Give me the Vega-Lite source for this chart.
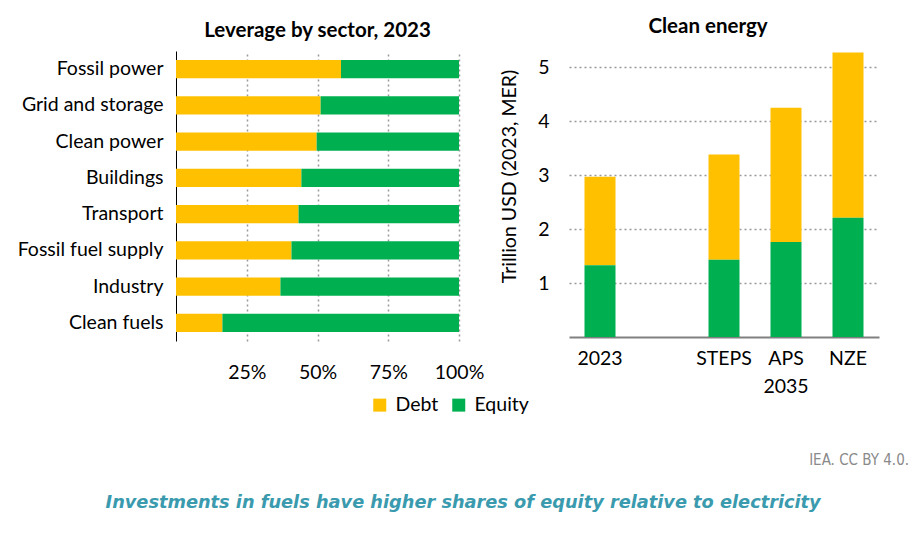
{
  "$schema": "https://vega.github.io/schema/vega-lite/v6.json",
  "background": "white",
  "padding": {"left": 17, "top": 16, "right": 6, "bottom": 22},
  "config": {
    "font": "Lato",
    "view": {"stroke": null},
    "axis": {"labelFont": "Lato", "labelFontSize": 19.5, "labelColor": "#000000", "titleFont": "Lato", "titleFontSize": 19.5, "titleFontWeight": "normal", "titleColor": "#000000", "ticks": false},
    "title": {"font": "Lato", "fontSize": 20.5, "fontWeight": "bold", "color": "#000000"},
    "concat": {"spacing": 15}
  },
  "title": {
    "text": "Investments in fuels have higher shares of equity relative to electricity",
    "orient": "bottom",
    "anchor": "middle",
    "font": "DejaVu Sans",
    "fontSize": 17.75,
    "fontStyle": "italic",
    "fontWeight": "bold",
    "color": "#3a9aae",
    "offset": 26
  },
  "datasets": {
    "leverage": [
      {"sector": "Fossil power", "type": "Debt", "share": 58.3},
      {"sector": "Fossil power", "type": "Equity", "share": 41.7},
      {"sector": "Grid and storage", "type": "Debt", "share": 51.1},
      {"sector": "Grid and storage", "type": "Equity", "share": 48.9},
      {"sector": "Clean power", "type": "Debt", "share": 49.7},
      {"sector": "Clean power", "type": "Equity", "share": 50.3},
      {"sector": "Buildings", "type": "Debt", "share": 44.3},
      {"sector": "Buildings", "type": "Equity", "share": 55.7},
      {"sector": "Transport", "type": "Debt", "share": 43.3},
      {"sector": "Transport", "type": "Equity", "share": 56.7},
      {"sector": "Fossil fuel supply", "type": "Debt", "share": 40.8},
      {"sector": "Fossil fuel supply", "type": "Equity", "share": 59.2},
      {"sector": "Industry", "type": "Debt", "share": 36.9},
      {"sector": "Industry", "type": "Equity", "share": 63.1},
      {"sector": "Clean fuels", "type": "Debt", "share": 16.4},
      {"sector": "Clean fuels", "type": "Equity", "share": 83.6}
    ],
    "clean": [
      {"case": "2023", "type": "Debt", "value": 1.64},
      {"case": "2023", "type": "Equity", "value": 1.33},
      {"case": "STEPS", "type": "Debt", "value": 1.95},
      {"case": "STEPS", "type": "Equity", "value": 1.43},
      {"case": "APS", "type": "Debt", "value": 2.49},
      {"case": "APS", "type": "Equity", "value": 1.76},
      {"case": "NZE", "type": "Debt", "value": 3.06},
      {"case": "NZE", "type": "Equity", "value": 2.21}
    ]
  },
  "vconcat": [
    {
      "title": {
        "text": "IEA. CC BY 4.0.",
        "orient": "bottom",
        "anchor": "end",
        "font": "DejaVu Sans Condensed",
        "fontSize": 15,
        "fontWeight": "normal",
        "color": "#8a8a8a",
        "offset": 57,
        "dx": 30
      },
      "hconcat": [
        {
          "width": 283,
          "height": 290,
          "title": {"text": "Leverage by sector, 2023", "offset": 10},
          "data": {"name": "leverage"},
          "mark": {"type": "bar"},
          "encoding": {
            "y": {
              "field": "sector",
              "type": "nominal",
              "sort": ["Fossil power", "Grid and storage", "Clean power", "Buildings", "Transport", "Fossil fuel supply", "Industry", "Clean fuels"],
              "scale": {"paddingInner": 0.5, "paddingOuter": 0.25},
              "axis": {"title": null, "domainColor": "#000000", "domainWidth": 1, "labelPadding": 13, "grid": false}
            },
            "x": {
              "field": "share",
              "type": "quantitative",
              "stack": "zero",
              "scale": {"domain": [0, 100], "nice": false},
              "axis": {"title": null, "values": [25, 50, 75, 100], "labelExpr": "datum.value + '%'", "labelFlush": false, "labelOverlap": false, "domain": false, "grid": true, "gridDash": [2, 3], "gridColor": "#999999", "gridWidth": 1.5, "labelPadding": 22}
            },
            "color": {
              "field": "type",
              "type": "nominal",
              "scale": {"domain": ["Debt", "Equity"], "range": ["#FFC000", "#00B050"]},
              "legend": {"title": null, "orient": "none", "direction": "horizontal", "legendX": 194, "legendY": 344, "symbolType": "square", "symbolSize": 169, "symbolStrokeWidth": 0, "symbolOpacity": 1, "labelFontSize": 19.5, "labelFont": "Lato", "labelColor": "#000000", "columnPadding": 10, "labelOffset": 6}
            },
            "order": {"field": "type", "sort": "ascending"}
          }
        },
        {
          "width": 310,
          "height": 286,
          "title": {"text": "Clean energy", "offset": 14, "dx": -16},
          "data": {"name": "clean"},
          "mark": {"type": "bar"},
          "encoding": {
            "x": {
              "field": "case",
              "type": "nominal",
              "scale": {"domain": ["2023", " ", "STEPS", "APS", "NZE"], "paddingInner": 0.5, "paddingOuter": 0.25},
              "axis": {"title": null, "labelAngle": 0, "labelExpr": "datum.value == 'APS' ? ['APS', '2035'] : datum.value", "labelLineHeight": 28, "labelBaseline": "top", "labelPadding": 12, "domainColor": "#808080", "domainWidth": 2, "grid": false}
            },
            "y": {
              "field": "value",
              "type": "quantitative",
              "stack": "zero",
              "scale": {"domain": [0, 5.3], "nice": false},
              "axis": {"title": "Trillion USD (2023, MER)", "values": [1, 2, 3, 4, 5], "domain": false, "grid": true, "gridDash": [2, 3], "gridColor": "#999999", "gridWidth": 1.5, "labelPadding": 20, "titlePadding": 18, "titleY": 125}
            },
            "color": {"field": "type", "type": "nominal"},
            "order": {"field": "type", "sort": "descending"}
          }
        }
      ]
    }
  ]
}
